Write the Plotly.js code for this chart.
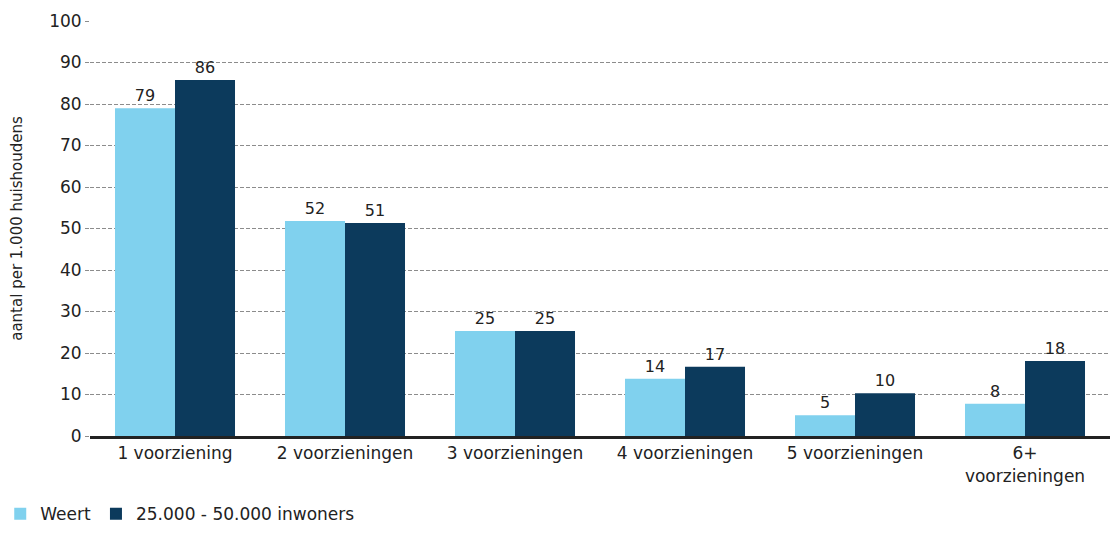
<!DOCTYPE html>
<html>
<head>
<meta charset="utf-8">
<script src="https://cdn.plot.ly/plotly-3.0.1.min.js"></script>
<style>
  html, body { margin: 0; padding: 0; background: #fff; }
  #chart { width: 1110px; height: 533px; }
</style>
</head>
<body>
<div id="chart"></div>
<script>
(function() {
  'use strict';

  // categories and values (per 1.000 huishoudens)
  var categories = ['1 voorziening', '2 voorzieningen', '3 voorzieningen',
                    '4 voorzieningen', '5 voorzieningen', '6+<br>voorzieningen'];
  var weert = [79.0, 51.8, 25.3, 13.8, 5.0, 7.8];
  var gemeenten = [85.8, 51.3, 25.3, 16.7, 10.3, 18.1];
  var seriesNames = ['Weert', '25.000 - 50.000 inwoners'];

  var font = 'Verdana, "DejaVu Sans", sans-serif';

  var trace1 = {
    type: 'bar',
    name: seriesNames[0],
    x: categories,
    y: weert,
    texttemplate: '%{y:.0f}',
    textposition: 'outside',
    cliponaxis: false,
    textfont: {family: font, size: 16, color: '#222'},
    marker: {color: '#80d1ee'},
    hoverinfo: 'x+y+name'
  };

  var trace2 = {
    type: 'bar',
    name: seriesNames[1],
    x: categories,
    y: gemeenten,
    texttemplate: '%{y:.0f}',
    textposition: 'outside',
    cliponaxis: false,
    textfont: {family: font, size: 16, color: '#222'},
    marker: {color: '#0c3a5c'},
    hoverinfo: 'x+y+name'
  };

  var layout = {
    width: 1110,
    height: 533,
    margin: {l: 90, r: 0, t: 21, b: 97},
    paper_bgcolor: '#fff',
    plot_bgcolor: '#fff',
    font: {family: font, size: 16, color: '#222'},
    barmode: 'group',
    bargap: 0.294,
    bargroupgap: 0,
    showlegend: true,
    legend: {
      orientation: 'h',
      x: -0.088, xanchor: 'left',
      y: -0.232, yanchor: 'bottom',
      font: {family: font, size: 17, color: '#222'},
      itemwidth: 30,
      traceorder: 'normal'
    },
    xaxis: {
      type: 'category',
      showline: true,
      linecolor: '#222',
      linewidth: 3,
      ticks: '',
      showgrid: false,
      tickfont: {family: font, size: 17, color: '#222'},
      automargin: false
    },
    yaxis: {
      range: [0, 100],
      dtick: 10,
      tick0: 0,
      showgrid: true,
      gridcolor: '#8c8c8c',
      griddash: '4px,2px',
      gridwidth: 1,
      zeroline: false,
      ticks: 'outside',
      ticklen: 4,
      tickcolor: '#8c8c8c',
      tickfont: {family: font, size: 17, color: '#222'},
      title: {
        text: 'aantal per 1.000 huishoudens',
        font: {family: font, size: 15, color: '#222'},
        standoff: 22
      },
      automargin: false
    }
  };

  Plotly.newPlot('chart', [trace1, trace2], layout, {displayModeBar: false, staticPlot: true});
}());
</script>
</body>
</html>
